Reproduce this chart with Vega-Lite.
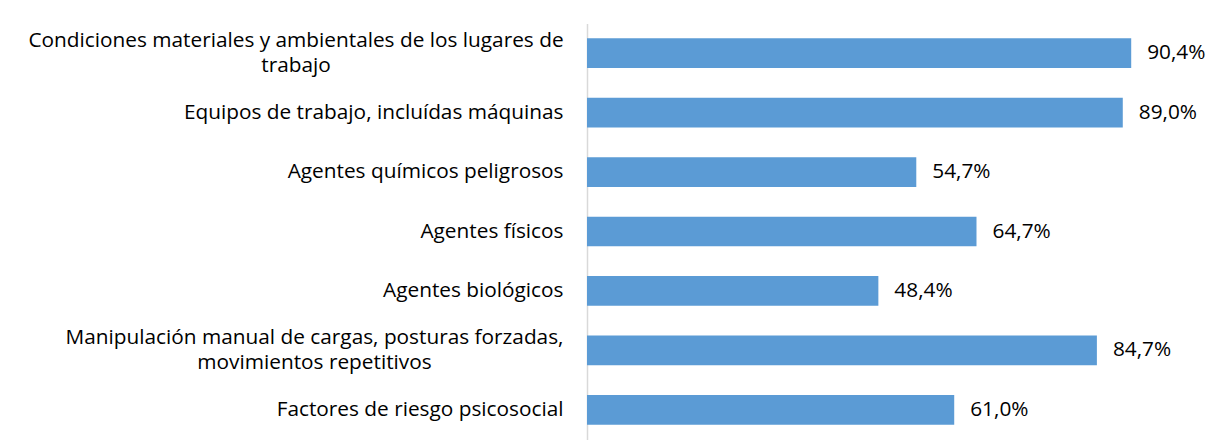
{
  "$schema": "https://vega.github.io/schema/vega-lite/v6.json",
  "autosize": {"type": "none"},
  "width": 602,
  "height": 416,
  "padding": {"left": 587, "top": 23.5, "right": 22, "bottom": 1.5},
  "background": "#ffffff",
  "config": {
    "view": {"stroke": null},
    "font": "Open Sans",
    "locale": {"number": {"decimal": ",", "thousands": ".", "grouping": [3], "currency": ["", " €"]}}
  },
  "data": {
    "values": [
      {"cat": "Condiciones materiales y ambientales de los lugares de|trabajo", "v": 0.904},
      {"cat": "Equipos de trabajo, incluídas máquinas", "v": 0.890},
      {"cat": "Agentes químicos peligrosos", "v": 0.547},
      {"cat": "Agentes físicos", "v": 0.647},
      {"cat": "Agentes biológicos", "v": 0.484},
      {"cat": "Manipulación manual de cargas, posturas forzadas,|movimientos repetitivos", "v": 0.847},
      {"cat": "Factores de riesgo psicosocial", "v": 0.610}
    ]
  },
  "encoding": {
    "y": {
      "field": "cat", "type": "nominal", "sort": null,
      "scale": {"paddingInner": 0.5, "paddingOuter": 0.25},
      "axis": {
        "title": null,
        "ticks": false,
        "domainColor": "#D9D9D9",
        "domainWidth": 1.5,
        "labelLimit": 0,
        "labelFont": "Open Sans",
        "labelFontSize": 20.8,
        "labelColor": "#000000",
        "labelLineHeight": 25,
        "labelExpr": "split(datum.value, '|')",
        "labelAlign": {"condition": {"test": "indexof(datum.value, '|') >= 0", "value": "center"}, "value": "right"},
        "labelPadding": {"condition": [
          {"test": "indexof(datum.value, 'Condiciones') === 0", "value": 291.5},
          {"test": "indexof(datum.value, 'Manipulaci') === 0", "value": 273}
        ], "value": 24},
        "labelOffset": {"condition": {"test": "indexof(datum.value, '|') >= 0", "value": -12.5}, "value": 0}
      }
    },
    "x": {
      "field": "v", "type": "quantitative",
      "scale": {"domain": [0, 1], "nice": false},
      "axis": null
    }
  },
  "layer": [
    {"mark": {"type": "bar", "color": "#5B9BD5"}},
    {
      "mark": {"type": "text", "align": "left", "baseline": "middle", "dx": 16, "font": "Open Sans", "fontSize": 20.8, "color": "#000000"},
      "encoding": {"text": {"field": "v", "type": "quantitative", "format": ".1%"}}
    }
  ]
}
